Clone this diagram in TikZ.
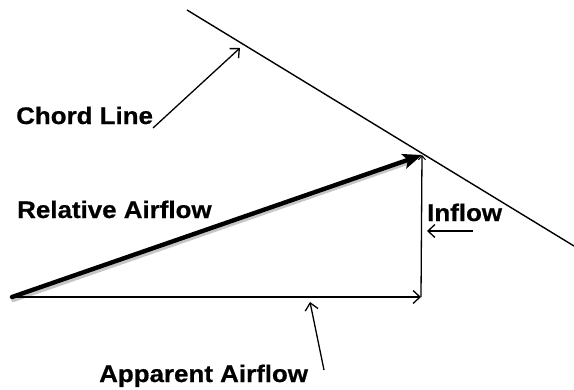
\documentclass[tikz,border=0pt]{standalone}
\usepackage{fontspec}
\setmainfont{Liberation Sans}
\newfontfamily\labfont[FakeStretch=1.08,BoldFeatures={FakeStretch=1.08,FakeBold=0.6}]{Liberation Sans}
\usetikzlibrary{arrows.meta}
\begin{document}
\begin{tikzpicture}[x=1pt,y=-1pt,
  lab/.style={anchor=base west,inner sep=0pt,font=\labfont\bfseries\fontsize{24}{28}\selectfont},
  thin/.style={line width=1.3pt,black},
  barb/.style={-{Straight Barb[length=7pt,width=13pt,line width=1.3pt]}},
  thick/.style={line width=4.4pt,line cap=round,-{Stealth[length=19pt,width=15pt,inset=4pt]}}]
\useasboundingbox[fill=white] (0,0) rectangle (574,389);
% points
\coordinate (cA) at (187,10);
\coordinate (cB) at (574,246);
\coordinate (O) at (12,297);
\coordinate (P) at (422,155);
\coordinate (Q) at (421,297);
\coordinate (chordtip) at (240,48);
\coordinate (chordtail) at (153,128);
\coordinate (inA) at (473,231);
\coordinate (inB) at (427,231);
\coordinate (apA) at (324,370);
\coordinate (apB) at (310,302);
% labels
\node[lab] (chord) at (16,124) {Chord Line};
\node[lab] (rel) at (17,218) {Relative Airflow};
\node[lab] (inflow) at (427,221) {Inflow};
\node[lab] (app) at (99,382) {Apparent Airflow};
% chord line
\draw[thin,line width=1.4pt] (cA) -- (cB);
\draw[thin,barb] (chordtail) -- (chordtip);
% relative airflow (with soft shadow)
\draw[line width=5pt,gray!45,line cap=round] ([shift={(1.5,2.5)}]O) -- ([shift={(-12,6.5)}]P);
\draw[thick] (O) -- (P);
% apparent airflow
\draw[thin,barb] (O) -- (Q);
% inflow vertical
\draw[thin,-{Straight Barb[length=4pt,width=7pt,line width=1pt]}] (Q) -- (P);
% pointers
\draw[thin,barb] (inA) -- (inB);
\draw[thin,barb] (apA) -- (apB);
\end{tikzpicture}
\end{document}
